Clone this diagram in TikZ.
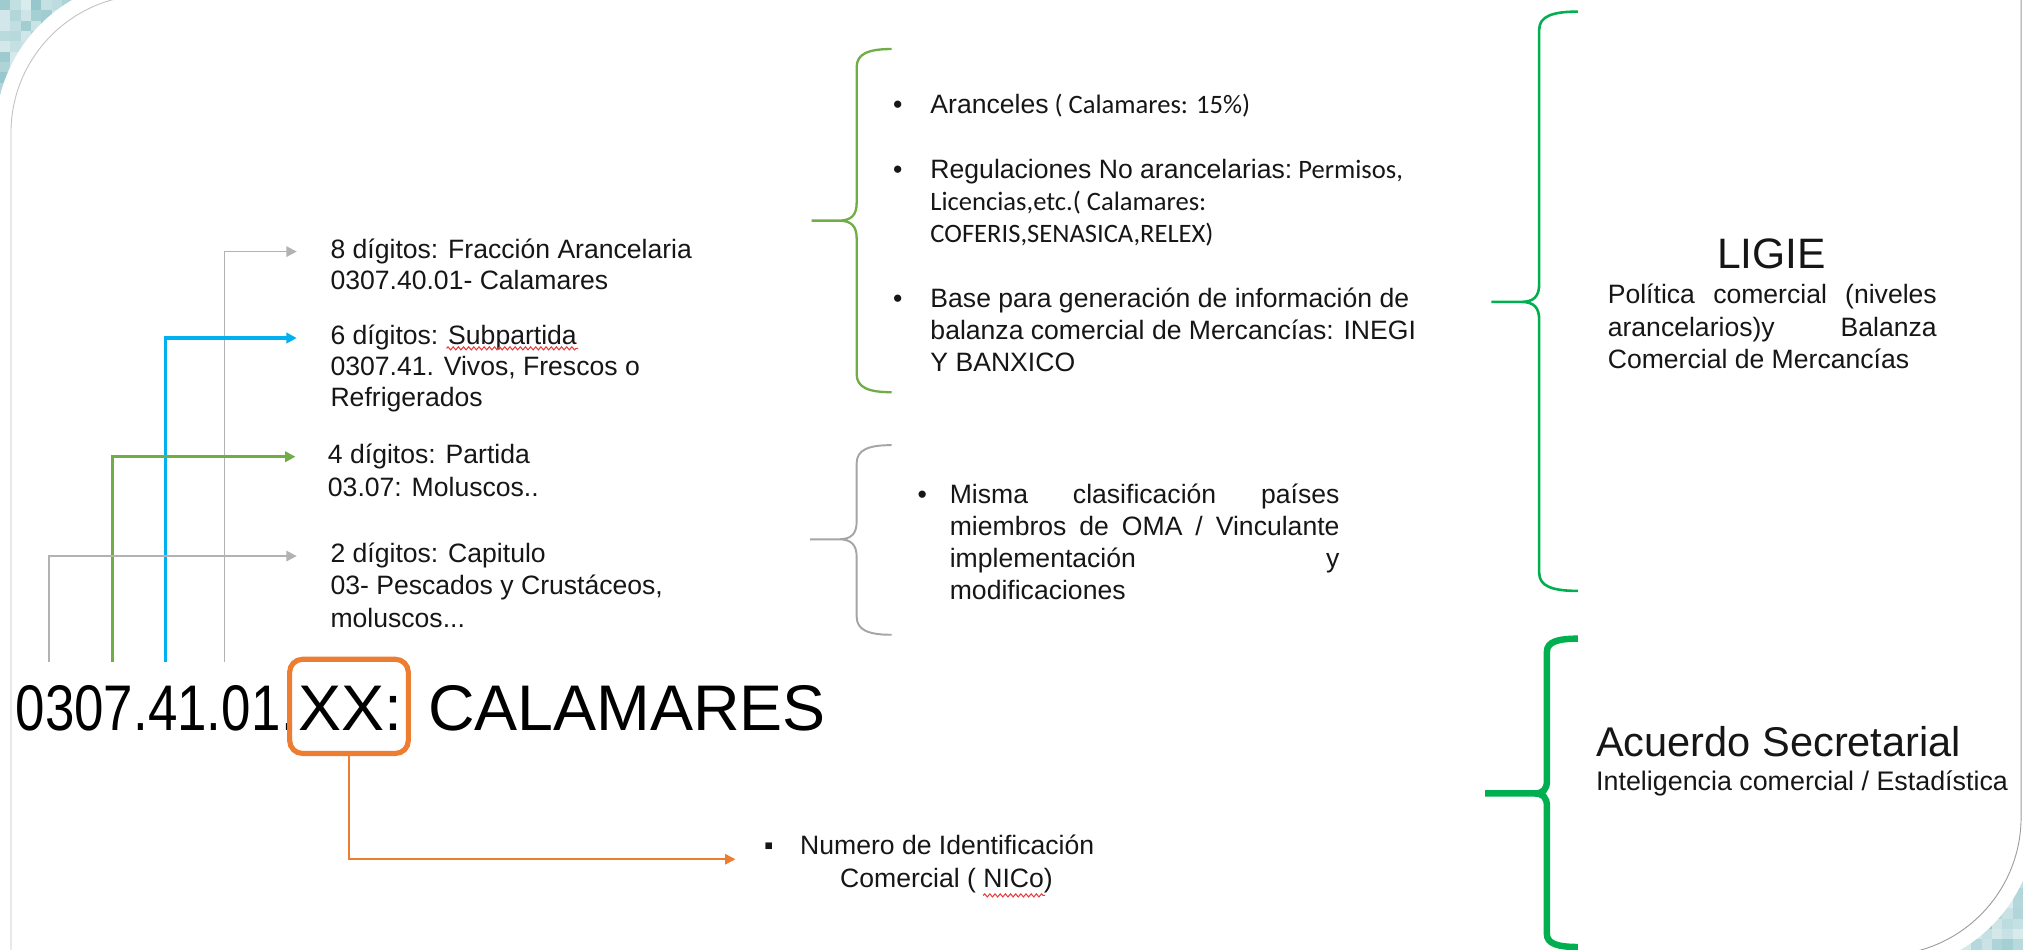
\documentclass[tikz,border=0pt]{standalone}
\usepackage{graphicx}
\usepackage{fontspec}
\setmainfont{Liberation Sans}
\newfontfamily\carl{Carlito}
\usetikzlibrary{arrows.meta,decorations.pathmorphing}
\definecolor{ink}{RGB}{22,22,22}
\definecolor{ogreen}{RGB}{112,173,71}
\definecolor{bgreen}{RGB}{0,176,80}
\definecolor{oblue}{RGB}{0,176,240}
\definecolor{ogray}{RGB}{178,178,178}
\definecolor{bgray}{RGB}{165,165,165}
\definecolor{oorange}{RGB}{237,125,49}
\definecolor{mos}{RGB}{95,170,178}
\definecolor{framegray}{RGB}{195,195,195}
\definecolor{squig}{RGB}{230,60,60}
\newcommand\fsz[1]{\fontsize{#1pt}{#1pt}\selectfont}
\newcommand\mybrc[8]{%
  \draw[#1] (#2,#4) .. controls ({#3+0.35*(#2-#3)},#4) and (#3,{#4+0.25*#8}) .. (#3,{#4+#8})
   -- (#3,{#7-#8}) .. controls (#3,{#7-0.3*#8}) and ({#3-0.3*#8},#7) .. ({#3-#8},#7) -- (#6,#7)
   (#6,#7) -- ({#3-#8},#7) .. controls ({#3-0.3*#8},#7) and (#3,{#7+0.3*#8}) .. (#3,{#7+#8})
   -- (#3,{#5-#8}) .. controls (#3,{#5-0.25*#8}) and ({#3+0.35*(#2-#3)},#5) .. (#2,#5);}
\begin{document}
\begin{tikzpicture}[x=1pt,y=-1pt,
  txt/.style={anchor=base west, inner sep=0pt, text=ink, font=\fsz{20.6}, text height=15pt, text depth=5pt},
  ctxt/.style={txt, font=\carl\fsz{20.6}},
  tipa/.style={-{Triangle[length=8pt,width=8pt]}},
  grayarrow/.style={draw=ogray, line width=1.3pt, tipa},
  greenarrow/.style={draw=ogreen, line width=2.2pt, tipa},
  bluearrow/.style={draw=oblue, line width=2.4pt, tipa},
  orangearrow/.style={draw=oorange, line width=1.5pt, tipa},
  squiggle/.style={draw=squig, line width=0.8pt, decorate, decoration={snake, amplitude=1.2pt, segment length=4pt}}]
\useasboundingbox (0,0) rectangle (1568,736);
\clip (0,0) rectangle (1568,736);
% mosaic corners
\pgfmathsetseed{7}
\foreach \i in {0,...,7}{\foreach \j in {0,...,9}{%
  \pgfmathsetmacro\p{int(22+45*rnd)}
  \fill[mos!\p!white] (\i*8,\j*8) rectangle ++(8,8);}}
\foreach \i in {0,...,7}{\foreach \j in {0,...,8}{%
  \pgfmathsetmacro\p{int(22+45*rnd)}
  \fill[mos!\p!white] (1504+\i*8,664+\j*8) rectangle ++(8,8);}}
% white slide area
\fill[white] (-3.5,760) -- (-3.5,103) .. controls (-3.5,37.3) and (49.8,-16) .. (115.5,-16)
  -- (1590,-16) -- (1578.5,633.4) .. controls (1578.5,699.1) and (1525.2,752.4) .. (1459.5,752.4)
  -- (-3.5,760) -- cycle;
\draw[framegray, line width=0.7pt] (8.5,760) -- (8.5,103) .. controls (8.5,43.9) and (56.4,-4) .. (115.5,-4);
\draw[framegray!80!black, line width=0.7pt] (1566.5,-10) -- (1566.5,633.4) .. controls (1566.5,692.5) and (1518.6,740.4) .. (1459.5,740.4);

% main code
\node[anchor=base west, inner sep=0pt, text=black, font=\fsz{50}] (code) at (12,566) {\scalebox{0.82}[1]{0307.41.01}.XX:\kern6pt{} CALAMARES};
\node[draw=oorange, line width=4pt, rounded corners=10pt, minimum width=92pt, minimum height=73pt, inner sep=0pt] (xx) at (270.5,547.5) {};

% left labels
\node[txt] (l8a) at (256,200) {8 dígitos: Fracción Arancelaria};
\node[txt] (l8b) at (256,224) {0307.40.01- Calamares};
\node[txt] (l6a) at (256,267) {6 dígitos: Subpartida};
\node[txt] (l6b) at (256,291) {0307.41. Vivos, Frescos o};
\node[txt] (l6c) at (256,315) {Refrigerados};
\node[txt] (l4a) at (254,359) {4 dígitos: Partida};
\node[txt] (l4b) at (254,385) {03.07: Moluscos..};
\node[txt] (l2a) at (256,436) {2 dígitos: Capitulo};
\node[txt] (l2b) at (256,461) {03- Pescados y Crustáceos,};
\node[txt] (l2c) at (256,486) {moluscos...};

\coordinate (s2) at (38,513);
\coordinate (s4) at (87,513);
\coordinate (s6) at (128,513);
\coordinate (s8) at (174,513);
\draw[grayarrow, shorten >=26pt] (s8) |- (l8a);
\draw[bluearrow, shorten >=26pt] (s6) |- (l6a);
\draw[greenarrow, shorten >=25pt] (s4) |- (l4a);
\draw[grayarrow, shorten >=26pt] (s2) |- (l2a);
\draw[squiggle] (346,270) -- (448,270);

% NICo
\coordinate (na) at (570,666);
\draw[orangearrow] (xx.south) |- (na);
\node[txt] (nb) at (592,662) {▪};
\node[txt] (n1) at (620,662) {Numero de Identificación};
\node[txt] (n2) at (651,688) {Comercial ( NICo)};
\draw[squiggle] (762,694) -- (810,694);

% middle top group
\mybrc{draw=ogreen, line width=1.8pt}{691}{664}{38}{304}{629}{171}{14}
\node[txt] (b1) at (692,88) {•};
\node[txt] (m1) at (721,88) {Aranceles{\carl\ ( Calamares: 15\%)}};
\node[txt] (b2) at (692,138) {•};
\node[txt] (m2a) at (721,138) {Regulaciones No arancelarias:{\carl\ Permisos,}};
\node[ctxt] (m2b) at (721,163) {Licencias,etc.( Calamares:};
\node[ctxt] (m2c) at (721,188) {COFERIS,SENASICA,RELEX)};
\node[txt] (b3) at (692,238) {•};
\node[txt] (m3a) at (721,238) {Base para generación de información de};
\node[txt] (m3b) at (721,263) {balanza comercial de Mercancías: INEGI};
\node[txt] (m3c) at (721,288) {Y BANXICO};

% middle lower group
\mybrc{draw=bgray, line width=1.5pt}{691}{664}{345}{492}{628}{418}{14}
\node[txt] (b4) at (711,390) {•};
\node[txt] (o1) at (736,390) {\makebox[302pt][s]{Misma clasificación países}};
\node[txt] (o2) at (736,415) {\makebox[302pt][s]{miembros de OMA / Vinculante}};
\node[txt] (o3) at (736,440) {\makebox[302pt][s]{implementación y}};
\node[txt] (o4) at (736,465) {modificaciones};

% LIGIE
\mybrc{draw=bgreen, line width=2pt}{1223}{1193}{9}{458}{1156}{234}{14}
\node[anchor=base, inner sep=0pt, text=ink, font=\fsz{33}] (ligie) at (1373,208) {LIGIE};
\node[txt] (p1) at (1246,235) {\makebox[255pt][s]{Política comercial (niveles}};
\node[txt] (p2) at (1246,260.5) {\makebox[255pt][s]{arancelarios)y Balanza}};
\node[txt] (p3) at (1246,285.5) {Comercial de Mercancías};

% Acuerdo
\mybrc{draw=bgreen, line width=5pt}{1223}{1199}{495}{734}{1151}{615}{10}
\node[txt, font=\fsz{32.2}] (ac) at (1237,586) {Acuerdo Secretarial};
\node[txt, font=\fsz{20.8}] (ic) at (1237,613) {Inteligencia comercial / Estadística};
\end{tikzpicture}
\end{document}
